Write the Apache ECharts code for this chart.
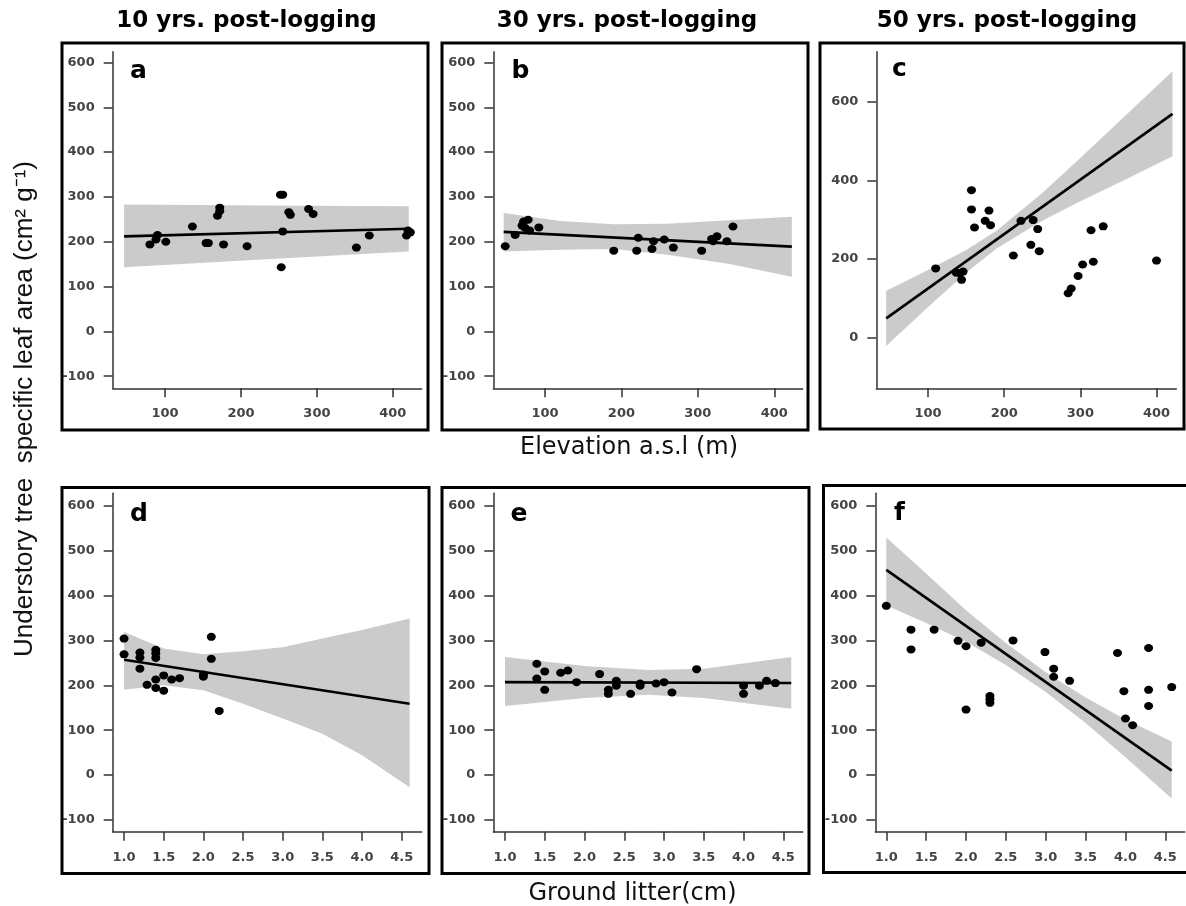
<!DOCTYPE html>
<html>
<head>
<meta charset="utf-8">
<script src="https://cdn.jsdelivr.net/npm/echarts@6/dist/echarts.min.js"></script>
<style>
html,body{margin:0;padding:0;background:#fff;}
#chart{width:1186px;height:906px;}
</style>
</head>
<body>
<div id="chart"></div>
<script>
// ---------- tick labels ----------
const elevTicks = [100, 200, 300, 400];
const litterTicks = [1.0, 1.5, 2.0, 2.5, 3.0, 3.5, 4.0, 4.5];
const slaTicks = [-100, 0, 100, 200, 300, 400, 500, 600];
const slaTicksC = [0, 200, 400, 600];

// ---------- texts ----------
const columnTitles = ['10 yrs. post-logging', '30 yrs. post-logging', '50 yrs. post-logging'];
const panelLetters = ['a', 'b', 'c', 'd', 'e', 'f'];
const xTitleTop = 'Elevation a.s.l (m)';
const xTitleBottom = 'Ground litter(cm)';
const yTitle = 'Understory tree  specific leaf area (cm² g⁻¹)';

// ---------- panel a : elevation, 10 yrs ----------
const aPoints = [[80,194],[88,205],[90,215],[101,200],[136,234],[154,197],[157,197],[169,258],[172,268],[172,276],[177,194],[208,190],[252,305],[255,305],[255,223],[253,143],[263,266],[265,260],[289,273],[295,262],[352,187],[369,214],[418,214],[420,225],[423,221]];
const aFit = [[46,212],[421,229]];
const aBandX = [46, 233, 421];
const aBandLo = [143, 161, 178];
const aBandHi = [283, 281, 279];

// ---------- panel b : elevation, 30 yrs ----------
const bPoints = [[48,190],[61,215],[70,236],[72,245],[74,231],[78,249],[80,225],[92,232],[190,180],[220,180],[222,209],[240,184],[242,201],[256,205],[268,187],[305,180],[318,206],[320,201],[325,212],[338,201],[346,234]];
const bFit = [[46,222],[423,189]];
const bBandX = [46, 120, 190, 260, 340, 423];
const bBandLo = [178, 182, 184, 171, 151, 122];
const bBandHi = [264, 246, 239, 240, 248, 256];

// ---------- panel c : elevation, 50 yrs ----------
const cPoints = [[110,176],[137,165],[142,164],[146,168],[144,147],[157,375],[157,326],[161,280],[175,297],[180,323],[182,286],[212,209],[222,297],[238,299],[235,236],[244,276],[246,220],[284,113],[288,125],[297,157],[303,186],[314,273],[317,193],[330,283],[400,196]];
const cFit = [[45,49],[421,569]];
const cBandX = [45, 100, 150, 190, 250, 300, 360, 421];
const cBandLo = [-21, 78, 165, 227, 297, 347, 403, 461];
const cBandHi = [119, 172, 223, 272, 368, 457, 566, 677];

// ---------- panel d : litter, 10 yrs ----------
const dPoints = [[1.0,304],[1.0,269],[1.2,273],[1.2,262],[1.2,237],[1.29,201],[1.4,279],[1.4,271],[1.4,261],[1.4,213],[1.4,194],[1.5,222],[1.5,188],[1.6,213],[1.7,216],[2.0,224],[2.0,219],[2.1,308],[2.1,259],[2.2,143]];
const dFit = [[1.0,257],[4.6,159]];
const dBandX = [1.0, 1.5, 2.0, 2.5, 3.0, 3.5, 4.0, 4.6];
const dBandLo = [190, 200, 189, 159, 126, 92, 44, -27];
const dBandHi = [319, 282, 269, 276, 285, 304, 323, 349];

// ---------- panel e : litter, 30 yrs ----------
const ePoints = [[1.4,248],[1.4,215],[1.5,231],[1.5,190],[1.7,228],[1.79,233],[1.9,207],[2.19,225],[2.3,190],[2.3,181],[2.4,210],[2.4,199],[2.58,181],[2.7,204],[2.7,199],[2.9,204],[3.0,207],[3.1,184],[3.41,236],[4.0,199],[4.0,181],[4.2,199],[4.29,210],[4.4,205]];
const eFit = [[1.0,207],[4.6,205]];
const eBandX = [1.0, 2.0, 2.8, 3.5, 4.6];
const eBandLo = [154, 172, 179, 172, 148];
const eBandHi = [263, 243, 234, 237, 263];

// ---------- panel f : litter, 50 yrs ----------
const fPoints = [[1.0,377],[1.31,324],[1.31,280],[1.6,324],[1.9,299],[2.0,287],[2.0,146],[2.19,295],[2.3,176],[2.3,169],[2.3,161],[2.59,300],[2.99,274],[3.1,237],[3.1,219],[3.3,210],[3.9,272],[3.98,187],[4.0,126],[4.09,111],[4.29,283],[4.29,190],[4.29,154],[4.58,196]];
const fFit = [[1.0,457],[4.58,10]];
const fBandX = [1.0, 1.5, 2.0, 2.5, 3.0, 3.5, 4.0, 4.58];
const fBandLo = [378, 339, 297, 245, 185, 116, 40, -52];
const fBandHi = [529, 449, 367, 294, 229, 173, 124, 75];

// ---------- assemble ----------
const panels = [
  {pts:aPoints, fit:aFit, bx:aBandX, lo:aBandLo, hi:aBandHi, xt:elevTicks, yt:slaTicks},
  {pts:bPoints, fit:bFit, bx:bBandX, lo:bBandLo, hi:bBandHi, xt:elevTicks, yt:slaTicks},
  {pts:cPoints, fit:cFit, bx:cBandX, lo:cBandLo, hi:cBandHi, xt:elevTicks, yt:slaTicksC},
  {pts:dPoints, fit:dFit, bx:dBandX, lo:dBandLo, hi:dBandHi, xt:litterTicks, yt:slaTicks},
  {pts:ePoints, fit:eFit, bx:eBandX, lo:eBandLo, hi:eBandHi, xt:litterTicks, yt:slaTicks},
  {pts:fPoints, fit:fFit, bx:fBandX, lo:fBandLo, hi:fBandHi, xt:litterTicks, yt:slaTicks}
];

// layout (pixels) and axis extents
const layout = [
  {left:112.7, top:51.7, width:309,   height:336.6, xmin:31,    xmax:438,   ymin:-127,   ymax:624},
  {left:493.3, top:51.7, width:309.4, height:336.6, xmin:32.4,  xmax:437.2, ymin:-127,   ymax:624},
  {left:876.3, top:51.7, width:300,   height:336.6, xmin:32,    xmax:426,   ymin:-128.7, ymax:727},
  {left:112.7, top:493.3,width:309,   height:338.4, xmin:0.857, xmax:4.752, ymin:-126,   ymax:627.6},
  {left:493.3, top:493.3,width:309.4, height:338.4, xmin:0.853, xmax:4.744, ymin:-126,   ymax:627.6},
  {left:875.3, top:493.3,width:309.4, height:338.4, xmin:0.862, xmax:4.743, ymin:-126,   ymax:627.6}
];
const boxes = [
  {x:62, y:43, w:366, h:387},
  {x:442, y:43, w:366, h:387},
  {x:820, y:43, w:364, h:386},
  {x:62, y:487.5, w:367, h:386},
  {x:442, y:487.5, w:367, h:386},
  {x:823.5, y:485.5, w:366, h:387}
];
const letterPos = [[130,71.5],[511.5,71.5],[892,69.5],[130,514.5],[510.5,514.5],[894,513]];
const titleX = [246.5, 627, 1007];

const axisColor = '#333';
const tickFont = {color:'#444', fontFamily:'DejaVu Sans', fontWeight:'bold', fontSize:13};

const grids = [], xAxes = [], yAxes = [], series = [];
panels.forEach((p, i) => {
  const L = layout[i];
  grids.push({left:L.left, top:L.top, width:L.width, height:L.height, containLabel:false});
  const isLitter = i >= 3;
  xAxes.push({
    type:'value', gridIndex:i, min:L.xmin, max:L.xmax,
    axisLine:{show:true, onZero:false, lineStyle:{color:axisColor, width:1.5}},
    axisTick:{show:true, length:9, customValues:p.xt, lineStyle:{color:axisColor, width:1.5}},
    axisLabel:Object.assign({show:true, margin:19, customValues:p.xt,
      formatter:v => isLitter ? Number(v).toFixed(1) : String(Math.round(v))}, tickFont),
    splitLine:{show:false}
  });
  yAxes.push({
    type:'value', gridIndex:i, min:L.ymin, max:L.ymax,
    axisLine:{show:true, onZero:false, lineStyle:{color:axisColor, width:1.5}},
    axisTick:{show:true, length:9, customValues:p.yt, lineStyle:{color:axisColor, width:1.5}},
    axisLabel:Object.assign({show:true, margin:18, customValues:p.yt,
      formatter:v => String(Math.round(v))}, tickFont),
    splitLine:{show:false}
  });
  const bx = p.bx, lo = p.lo, hi = p.hi;
  series.push({
    type:'custom', xAxisIndex:i, yAxisIndex:i, silent:true, z:1, clip:false,
    data: bx.map((x, k) => [x, lo[k], hi[k]]),
    renderItem: (params, api) => {
      if (params.dataIndex !== 0) return null;
      const pts = [];
      for (let k = 0; k < bx.length; k++) pts.push(api.coord([bx[k], hi[k]]));
      for (let k = bx.length - 1; k >= 0; k--) pts.push(api.coord([bx[k], lo[k]]));
      return {type:'polygon', shape:{points:pts}, style:{fill:'#cbcbcb', stroke:null}};
    }
  });
  series.push({
    type:'line', xAxisIndex:i, yAxisIndex:i, data:p.fit, symbol:'none', z:2,
    lineStyle:{color:'#000', width:2.6}, silent:true
  });
  series.push({
    type:'scatter', xAxisIndex:i, yAxisIndex:i, data:p.pts, z:3,
    symbol:'circle', symbolSize:[9, 8], itemStyle:{color:'#000', opacity:1}, silent:true
  });
});

const graphics = [];
boxes.forEach(b => graphics.push({
  type:'rect', shape:{x:b.x, y:b.y, width:b.w, height:b.h}, z:10,
  style:{fill:null, stroke:'#000', lineWidth:3}
}));
columnTitles.forEach((t, k) => graphics.push({
  type:'text', x:titleX[k], y:21, z:10,
  style:{text:t, fill:'#000', font:'bold 23px "DejaVu Sans"', align:'center', verticalAlign:'middle', textAlign:'center', textVerticalAlign:'middle'}
}));
panelLetters.forEach((t, k) => graphics.push({
  type:'text', x:letterPos[k][0], y:letterPos[k][1], z:10,
  style:{text:t, fill:'#000', font:'bold 25px "DejaVu Sans"', align:'left', verticalAlign:'middle', textAlign:'left', textVerticalAlign:'middle'}
}));
graphics.push({
  type:'text', x:629, y:448, z:10,
  style:{text:xTitleTop, fill:'#111', font:'24px "DejaVu Sans"', align:'center', verticalAlign:'middle', textAlign:'center', textVerticalAlign:'middle'}
});
graphics.push({
  type:'text', x:632.5, y:894, z:10,
  style:{text:xTitleBottom, fill:'#111', font:'24px "DejaVu Sans"', align:'center', verticalAlign:'middle', textAlign:'center', textVerticalAlign:'middle'}
});
graphics.push({
  type:'text', x:25, y:409, rotation:Math.PI/2, z:10,
  style:{text:yTitle, fill:'#111', font:'26px "Liberation Sans"', align:'center', verticalAlign:'middle', textAlign:'center', textVerticalAlign:'middle'}
});

const chart = echarts.init(document.getElementById('chart'), null, {renderer:'canvas'});
chart.setOption({
  animation:false,
  backgroundColor:'#fff',
  grid:grids, xAxis:xAxes, yAxis:yAxes, series:series,
  graphic:graphics
});
</script>
</body>
</html>
